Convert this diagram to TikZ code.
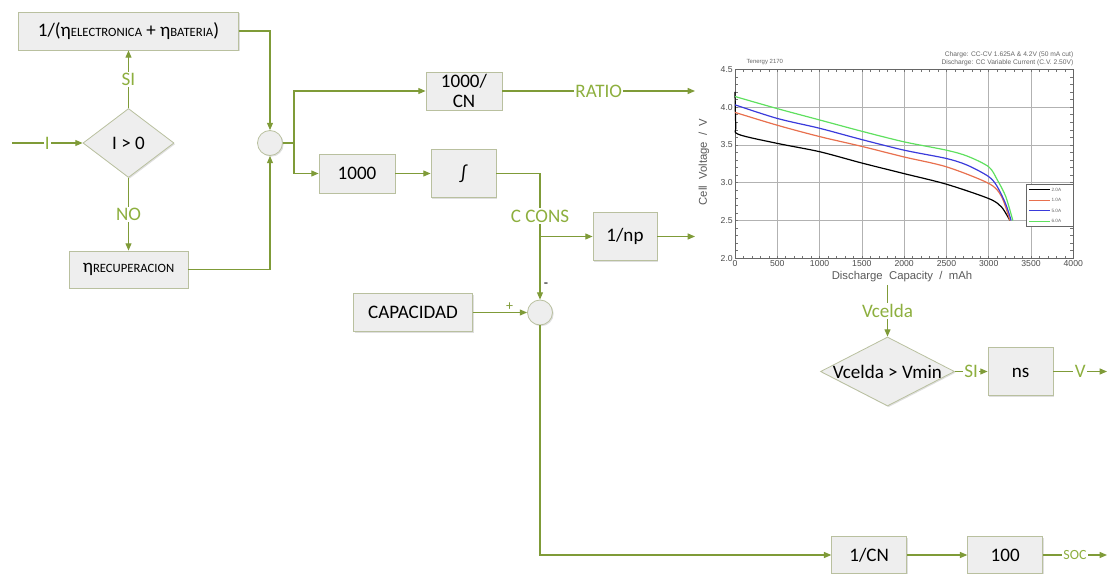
\documentclass[tikz,border=0pt]{standalone}
\usepackage{fontspec}
\setmainfont{Carlito}
\newfontfamily\chartfont{Liberation Sans}
\usepackage{xcolor}
\usetikzlibrary{arrows.meta, positioning, shapes.geometric, shadows}

\definecolor{lineolive}{HTML}{7F9B38}
\definecolor{labelolive}{HTML}{8DAF3E}
\definecolor{blockfill}{HTML}{EEEEEE}
\definecolor{blockedge}{HTML}{B9C09F}
\definecolor{curvered}{HTML}{E8704E}
\definecolor{curveblue}{HTML}{3A3ADB}
\definecolor{curvegreen}{HTML}{5FE05F}

\newcommand{\smallsub}[1]{{\fontsize{9.5}{10}\selectfont #1}}

\begin{document}
\begin{tikzpicture}[
    x=0.75pt, y=-0.75pt,
    font=\fontsize{14.3}{15.5}\selectfont,
    block/.style={rectangle, draw=blockedge, fill=blockfill, line width=0.6pt,
                  inner sep=0pt, align=center,
                  drop shadow={shadow xshift=0.9pt, shadow yshift=-0.9pt, opacity=0.25}},
    decision/.style={diamond, draw=blockedge, fill=blockfill, line width=0.6pt,
                  inner sep=0pt,
                  drop shadow={shadow xshift=0.9pt, shadow yshift=-0.9pt, opacity=0.25}},
    summer/.style={circle, draw=blockedge, fill=blockfill, line width=0.6pt,
                  minimum size=18.75pt, inner sep=0pt,
                  drop shadow={shadow xshift=0.9pt, shadow yshift=-0.9pt, opacity=0.25}},
    wire/.style={line width=0.9pt, lineolive},
    arr/.style={wire, -{Triangle[length=5.5pt, width=4.5pt]}},
    tag/.style={fill=white, text=labelolive, inner sep=1pt},
    sign/.style={font=\fontsize{10.5}{12}\selectfont, inner sep=1pt},
    gridln/.style={black!30, line width=0.5pt},
    ticklbl/.style={font=\chartfont\fontsize{6.5}{7}\selectfont, text=black!70, inner sep=1.5pt},
    curve/.style={line width=0.9pt, line join=round}
  ]
    \useasboundingbox (0,0) rectangle (1108,574);

    %% ── Left part: sign of I
    \coordinate (inl) at (12,143);
    \node[block, minimum width=165pt, minimum height=28.5pt] (topbox) at (128.5,31)
          {1/(η\smallsub{ELECTRONICA} + η\smallsub{BATERIA})};
    \node[decision, minimum width=68.25pt, minimum height=51.75pt] (dec1) at (128.5,143) {I > 0};
    \node[block, minimum width=89.25pt, minimum height=27.75pt] (recup) at (128.5,269.5)
          {η\smallsub{RECUPERACION}};
    \node[summer] (sum1) at (270,143) {};

    %% ── Middle: ratio and consumed capacity
    \coordinate (split1) at (294,143);
    \node[block, minimum width=57pt, minimum height=28.5pt] (ratio) at (464,91) {1000/\\CN};
    \node[block, minimum width=57pt, minimum height=29.25pt] (k1000) at (357,173.5) {1000};
    \node[block, minimum width=48.75pt, minimum height=36pt] (int) at (463.5,173.5) {∫};
    \coordinate (ccons) at (540,236.5);
    \node[tag] (cconslbl) at (540,216) {C CONS};
    \node[block, minimum width=48pt, minimum height=36pt] (np) at (625,236.5) {1/np};
    \node[block, minimum width=89pt, minimum height=28.5pt] (cap) at (413,312.5) {CAPACIDAD};
    \node[summer] (sum2) at (540,312.5) {};
    \node[sign] (minus) at (546,285) {-};
    \coordinate (ratioout) at (695,91);
    \coordinate (npout) at (695,236.5);

    %% ── Right: voltage and state of charge
    \coordinate (chartout) at (887.5,285);
    \node[decision, minimum width=100.5pt, minimum height=51.75pt] (dec2) at (887.5,371.5)
          {\makebox[0pt]{Vcelda > Vmin}};
    \node[block, minimum width=48.75pt, minimum height=36pt] (ns) at (1020.5,371.5) {ns\vphantom{N}};
    \coordinate (vout) at (1107,371.5);
    \node[block, minimum width=56.25pt, minimum height=27.75pt] (invcn) at (869.2,555) {1/CN};
    \node[block, minimum width=56.25pt, minimum height=27.75pt] (k100) at (1005.2,555) {100};
    \coordinate (socout) at (1107,555);

    %% Arrows: left part
    \draw[arr] (inl) -- node[tag]{I} (dec1.west);
    \draw[arr] (dec1.north) -- node[tag]{SI} (topbox.south);
    \draw[arr] (dec1.south) -- node[tag]{NO} (recup.north);
    \draw[arr] (topbox.east) -| (sum1.north);
    \draw[arr] (recup.east) -| (sum1.south);

    %% Arrows: middle
    \draw[wire] (sum1.east) -- (split1);
    \draw[arr] (split1) |- (ratio.west);
    \draw[arr] (split1) |- (k1000.west);
    \draw[arr] (ratio.east) -- node[tag]{RATIO} (ratioout);
    \draw[arr] (k1000) -- (int);
    \draw[wire] (int.east) -| (cconslbl.north);
    \draw[wire] (cconslbl.south) -- (ccons);
    \draw[arr] (ccons) -- (np.west);
    \draw[arr] (np.east) -- (npout);
    \draw[arr] (ccons) -- (sum2.north);
    \draw[arr] (cap.east) -- node[sign, above, pos=0.68]{+} (sum2.west);
    \draw[arr] (sum2.south) |- (invcn.west);

    %% Arrows: right
    \draw[arr] (chartout) -- node[tag]{Vcelda} (dec2.north);
    \draw[arr] (dec2.east) -- node[tag]{SI} (ns.west);
    \draw[arr] (ns.east) -- node[tag]{V} (vout);
    \draw[arr] (invcn) -- (k100);
    \draw[arr] (k100.east) -- node[tag, font=\fontsize{10.5}{12}\selectfont]{SOC} (socout);

    %% ── Discharge chart (mAh, V)
    \node[font=\chartfont\fontsize{4.5}{5}\selectfont, text=black!60, anchor=west] (chtitle)
          at (742,62) {Tenergy 2170};
    \node[font=\chartfont\fontsize{5}{6}\selectfont, text=black!60, align=right, anchor=east] (chnote)
          at (1078,58.5) {Charge: CC-CV 1.625A \& 4.2V (50 mA cut)\\Discharge: CC Variable Current (C.V. 2.50V)};
    \node[font=\chartfont\fontsize{8.5}{9}\selectfont, text=black!65] (xtitle) at (902,277)
          {Discharge\ \ Capacity\ \ /\ \ mAh};
    \node[font=\chartfont\fontsize{8.5}{9}\selectfont, text=black!65, rotate=90] (ytitle) at (704,162)
          {Cell\ \ Voltage\ \ /\ \ V};
    \begin{scope}[shift={(735,409.5)}, x=0.063435pt, y=56.7pt]
      \foreach \gx in {500,1000,...,3500} \draw[gridln] (\gx,2) -- (\gx,4.5);
      \foreach \gy in {2.5,3.0,3.5,4.0} \draw[gridln] (0,\gy) -- (4000,\gy);
      \foreach \gx in {100,200,...,3900} {
        \draw[black!55, line width=0.4pt] (\gx,2) -- ++(0,0.03);
        \draw[black!55, line width=0.4pt] (\gx,4.5) -- ++(0,-0.03);
      }
      \foreach \gy in {2.1,2.2,...,4.45} {
        \draw[black!55, line width=0.4pt] (0,\gy) -- ++(40,0);
        \draw[black!55, line width=0.4pt] (4000,\gy) -- ++(-40,0);
      }
      \draw[black!60, line width=0.6pt] (0,2) rectangle (4000,4.5);
      \foreach \gy in {2.0,2.5,3.0,3.5,4.0,4.5} \node[ticklbl, anchor=east] at (0,\gy) {\gy};
      \foreach \gx in {0,500,1000,1500,2000,2500,3000,3500,4000}
        \node[ticklbl, anchor=north] at (\gx,2) {\gx};

      %% curves
      \draw[curve, black] plot[smooth, tension=0.5] coordinates {(0,4.2) (10,3.75) (40,3.64)
            (500,3.52) (1000,3.41) (1500,3.26) (2000,3.12) (2500,2.98) (3000,2.79) (3150,2.68) (3250,2.5)};
      \draw[curve, curvered] plot[smooth, tension=0.5] coordinates {(0,3.93) (500,3.76) (1000,3.61)
            (1500,3.48) (2000,3.34) (2500,3.21) (3000,2.99) (3150,2.82) (3250,2.5)};
      \draw[curve, curveblue] plot[smooth, tension=0.5] coordinates {(0,4.03) (500,3.85) (1000,3.72)
            (1500,3.57) (2000,3.43) (2500,3.32) (2750,3.23) (3000,3.08) (3100,2.95) (3200,2.72) (3265,2.5)};
      \draw[curve, curvegreen] plot[smooth, tension=0.5] coordinates {(0,4.14) (500,3.98) (1000,3.83)
            (1500,3.68) (2000,3.54) (2500,3.43) (2750,3.35) (3000,3.21) (3100,3.04) (3200,2.82) (3285,2.5)};

      %% legend
      \draw[black!60, fill=white, line width=0.5pt] (3440,2.42) rectangle (4000,2.98);
      \foreach \ly/\lc/\lt in {2.91/black/2.0A, 2.77/curvered/1.0A, 2.63/curveblue/5.0A, 2.49/curvegreen/6.0A} {
        \draw[\lc, line width=0.8pt] (3480,\ly) -- (3720,\ly);
        \node[font=\chartfont\fontsize{3.5}{4}\selectfont, text=black!60, anchor=west, inner sep=0pt]
              at (3740,\ly) {\lt};
      }
    \end{scope}
\end{tikzpicture}
\end{document}
